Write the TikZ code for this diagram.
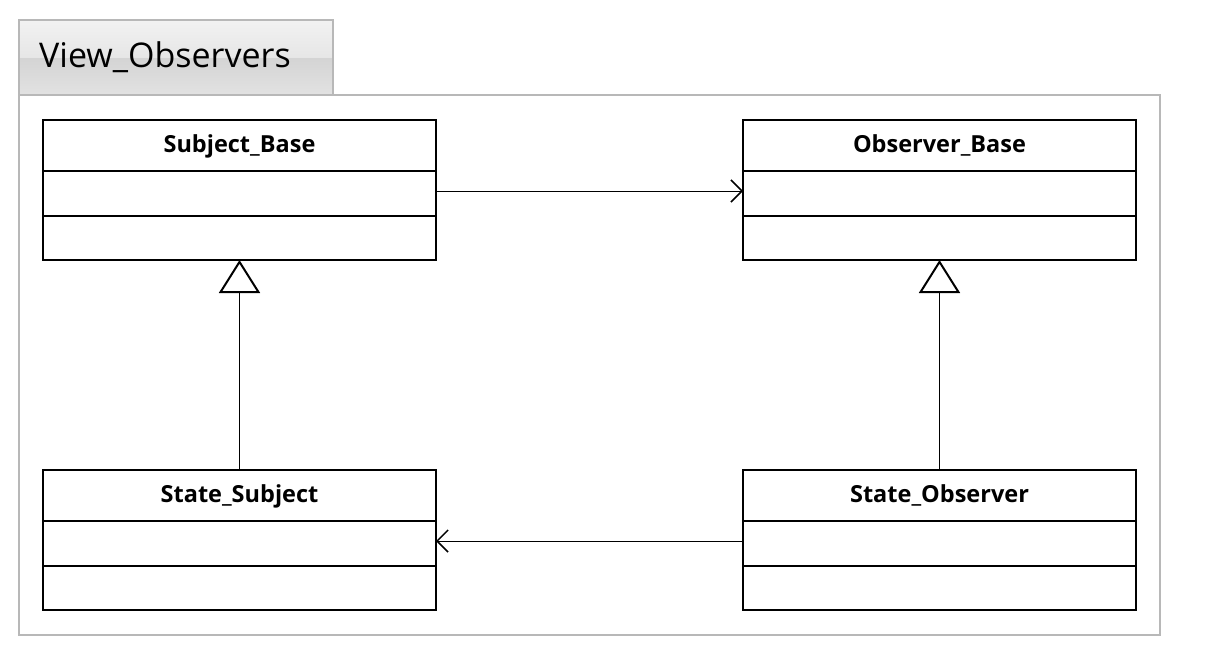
\documentclass[tikz,border=0pt]{standalone}
\usepackage{fontspec}
\setmainfont{Open Sans}
\usetikzlibrary{arrows.meta,calc}
\definecolor{frameGray}{HTML}{B8B8B8}
\definecolor{tabTop}{HTML}{F2F2F2}
\definecolor{tabMid}{HTML}{E6E6E6}
\definecolor{tabLow}{HTML}{D4D4D4}
\definecolor{tabBot}{HTML}{E2E2E2}
\begin{document}
\begin{tikzpicture}[x=1pt,y=-1pt,
  classbox/.style={draw=black, line width=2pt, fill=white, minimum width=393pt,
    minimum height=140pt, inner sep=0pt, outer sep=0pt},
  classname/.style={font=\bfseries\fontsize{23.5}{27}\selectfont, anchor=base, inner sep=0pt},
  divider/.style={line width=2pt},
  assoc/.style={line width=1pt, -{Straight Barb[length=11pt, width=22pt, line width=1.5pt]}},
  general/.style={line width=1pt, -{Triangle[open, length=33pt, width=41pt, line width=2pt, fill=white]}}
]
\useasboundingbox (0,0) rectangle (1213,667);
\fill[white] (0,0) rectangle (1213,667);

% package tab with its two-tone shading
\shade[top color=tabTop, bottom color=tabMid] (19,20) rectangle (333,58);
\shade[top color=tabLow, bottom color=tabBot] (19,58) rectangle (333,95);
\draw[frameGray, line width=2pt] (19,95) -- (19,20) -- (333,20) -- (333,95);
\node[anchor=base west, inner sep=0pt, font=\fontsize{34}{40}\selectfont] (pkgname) at (39,67.5) {View\_Observers};

% package body
\draw[frameGray, line width=2pt] (19,95) rectangle (1160,635);

% classes
\node[classbox] (sb) at (239.5,190) {};
\node[classbox] (ob) at (939.5,190) {};
\node[classbox] (ss) at (239.5,540) {};
\node[classbox] (so) at (939.5,540) {};

\foreach \c/\t in {sb/Subject\_Base, ob/Observer\_Base, ss/State\_Subject, so/State\_Observer}{
  \node[classname] (\c-name) at ($(\c.north)+(0,32)$) {\t};
  \draw[divider] ($(\c.north west)+(0,51)$) -- ($(\c.north east)+(0,51)$);
  \draw[divider] ($(\c.north west)+(0,96)$) -- ($(\c.north east)+(0,96)$);
}

% associations
\draw[assoc] ($(sb.east)+(0,1)$) -- ($(ob.west)+(0,1)$);
\draw[assoc] ($(so.west)+(0,1)$) -- ($(ss.east)+(0,1)$);

% generalizations
\draw[general] (ss.north) -- (sb.south);
\draw[general] (so.north) -- (ob.south);
\end{tikzpicture}
\end{document}
